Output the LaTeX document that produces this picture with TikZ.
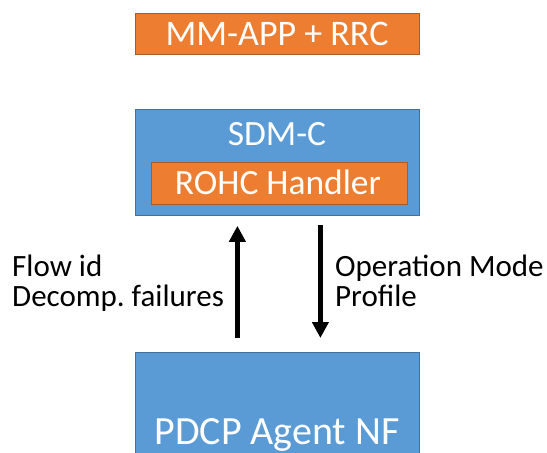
\documentclass[tikz,border=0pt]{standalone}
\usepackage{fontspec}
\setmainfont{Carlito}
\frenchspacing
\usetikzlibrary{arrows.meta}
\definecolor{orng}{HTML}{ED7D31}
\definecolor{orngb}{HTML}{AE5A21}
\definecolor{blu}{HTML}{5B9BD5}
\definecolor{blub}{HTML}{41719C}
\tikzset{
  obox/.style={draw=orngb, fill=orng, line width=0.8pt, text=white, inner sep=0pt, anchor=north west},
  bbox/.style={draw=blub, fill=blu, line width=0.8pt, inner sep=0pt, anchor=north west},
  lbl/.style={anchor=base west, font=\fontsize{31}{32}\selectfont, inner sep=0pt},
  btxt/.style={text=white, anchor=base, font=\fontsize{35.5}{36}\selectfont, inner sep=0pt},
  arr/.style={line width=4.5pt, -{Triangle[length=16pt,width=16pt]}}
}
\begin{document}
\begin{tikzpicture}[x=1pt,y=1pt]
\useasboundingbox (0,0) rectangle (547,-453);
\begin{scope}
\clip (0,0) rectangle (547,-453);
\node[obox, minimum width=284pt, minimum height=41pt] (mm) at (135,-13) {};
\node[btxt, font=\fontsize{36}{36}\selectfont] (mmt) at (277,-45) {MM-APP + RRC};
\node[bbox, minimum width=284pt, minimum height=106pt] (sdm) at (135,-109) {};
\node[btxt] (sdmt) at (277,-145) {SDM-C};
\node[obox, minimum width=256pt, minimum height=42pt] (rohc) at (151,-162) {};
\node[btxt] (rohct) at (278,-194) {ROHC Handler};
\node[bbox, minimum width=284pt, minimum height=120pt] (pdcp) at (135,-352) {};
\node[btxt, font=\fontsize{40}{40}\selectfont] (pdcpt) at (277,-444) {PDCP Agent NF};
\end{scope}
\draw[arr, shorten <=14pt, shorten >=10pt] ([xshift=-40pt]pdcp.north) -- ([xshift=-40pt]sdm.south);
\draw[arr, shorten <=9pt, shorten >=14pt] ([xshift=43pt]sdm.south) -- ([xshift=43pt]pdcp.north);
\node[lbl] (l1) at (12,-276) {Flow id};
\node[lbl] (l2) at (12,-306) {Decomp. failures};
\node[lbl] (r1) at (335,-276) {Operation Mode};
\node[lbl] (r2) at (335,-306) {Profile};
\end{tikzpicture}
\end{document}
